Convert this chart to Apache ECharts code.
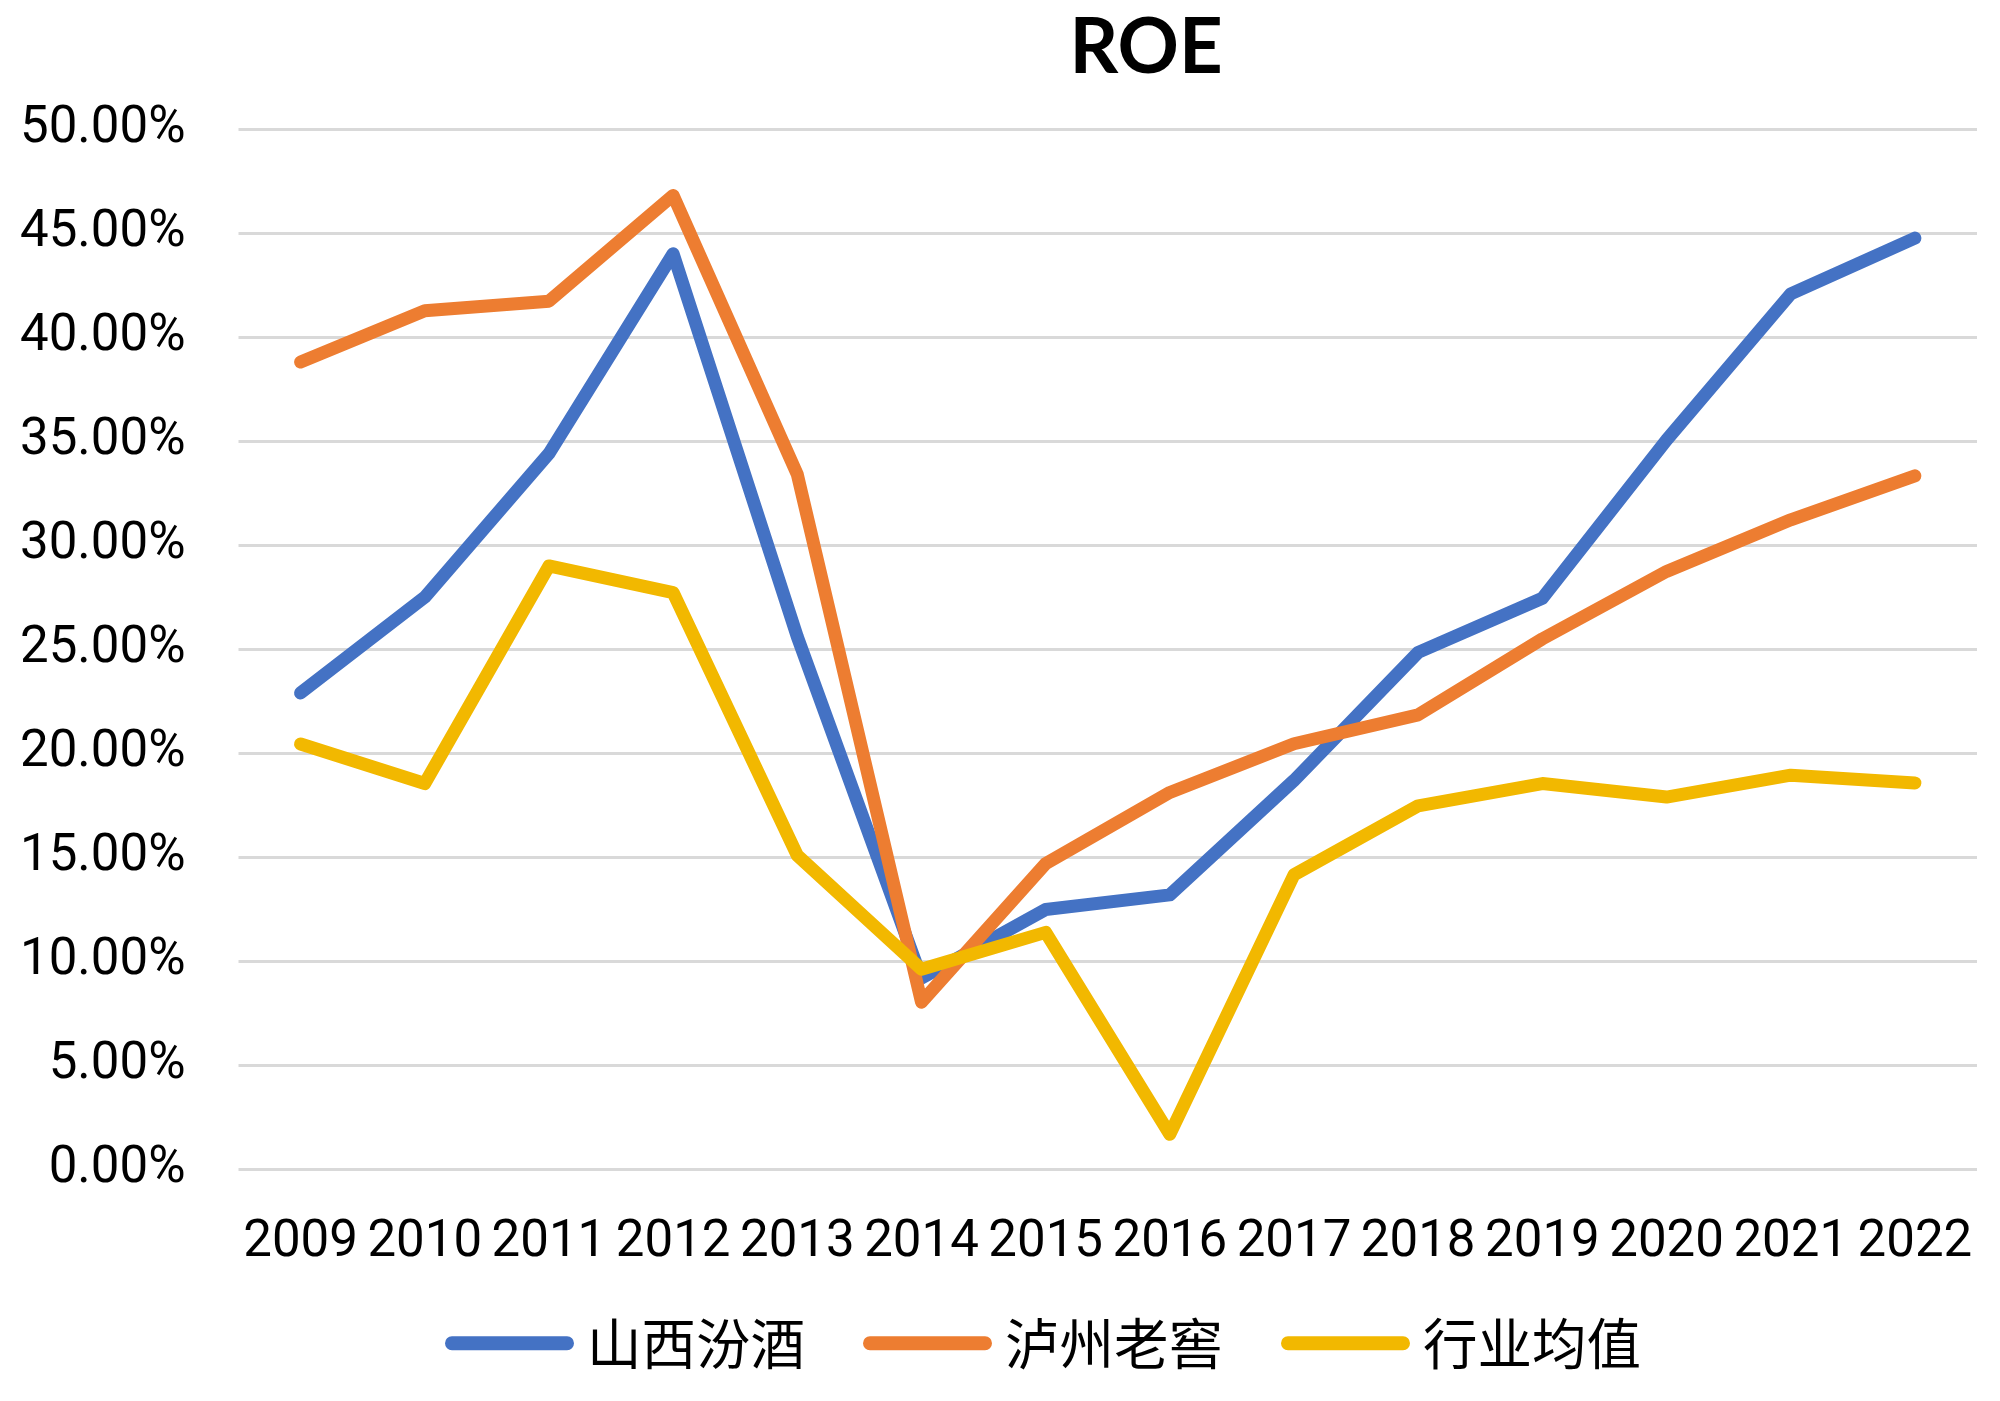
<!DOCTYPE html>
<html>
<head>
<meta charset="utf-8">
<style>
html,body{margin:0;padding:0;background:#fff;}
#chart{width:2000px;height:1401px;}
</style>
<script src="https://cdn.jsdelivr.net/npm/echarts@6/dist/echarts.min.js"></script>
</head>
<body>
<div id="chart"></div>
<script>
const categories = ['2009','2010','2011','2012','2013','2014','2015','2016','2017','2018','2019','2020','2021','2022'];
const seriesNames = ['山西汾酒','泸州老窖','行业均值'];
const fenjiu  = [22.9, 27.5, 34.4, 44.0, 25.6, 9.2, 12.5, 13.2, 18.7, 24.85, 27.45, 35.05, 42.07, 44.75];
const luzhou  = [38.8, 41.26, 41.72, 46.8, 33.4, 8.05, 14.7, 18.12, 20.46, 21.85, 25.5, 28.74, 31.22, 33.33];
const average = [20.45, 18.55, 29.0, 27.72, 15.1, 9.63, 11.4, 1.7, 14.17, 17.48, 18.55, 17.9, 18.95, 18.58];
const yTicks = {min: 0, max: 50, interval: 5};

const colors = ['#4472C4', '#ED7D31', '#F2B800'];
const labelFont = 'Roboto, "Noto Sans", sans-serif';
const cjkFont = '"Noto Sans CJK SC", sans-serif';

const chart = echarts.init(document.getElementById('chart'), null, {renderer: 'canvas'});
const capsule = 'path://M6.5,0 H114.5 A6.5,6.5 0 0 1 114.5,13 H6.5 A6.5,6.5 0 0 1 6.5,0 Z';

function lineSeries(name, data, color) {
  return {
    name: name,
    type: 'line',
    data: data,
    symbol: 'none',
    showSymbol: false,
    lineStyle: {color: color, width: 13, cap: 'round', join: 'round'},
    itemStyle: {color: color},
    emphasis: {disabled: true},
    animation: false
  };
}

chart.setOption({
  animation: false,
  backgroundColor: '#ffffff',
  color: colors,
  title: {
    text: 'ROE',
    left: 1146,
    top: 10,
    textAlign: 'center',
    padding: 0,
    textStyle: {fontFamily: 'Lato, Roboto, sans-serif', fontWeight: 'bold', fontSize: 76, color: '#000000'}
  },
  grid: {left: 238.5, right: 23, top: 128.8, bottom: 231.3, containLabel: false},
  legend: {
    left: 445,
    top: 1316,
    padding: 0,
    itemGap: 58,
    itemWidth: 129,
    itemHeight: 14,
    icon: capsule,
    data: seriesNames,
    selectedMode: false,
    textStyle: {fontFamily: cjkFont, fontSize: 54.5, color: '#000000', padding: [0, 0, 0, 8]}
  },
  xAxis: {
    type: 'category',
    data: categories,
    boundaryGap: true,
    axisLine: {show: false},
    axisTick: {show: false},
    axisLabel: {interval: 0, margin: 48, fontFamily: labelFont, fontSize: 51, color: '#000000'},
    splitLine: {show: false}
  },
  yAxis: {
    type: 'value',
    min: yTicks.min,
    max: yTicks.max,
    interval: yTicks.interval,
    axisLine: {show: false},
    axisTick: {show: false},
    axisLabel: {
      margin: 53,
      fontFamily: labelFont,
      fontSize: 51,
      color: '#000000',
      formatter: function (v) { return v.toFixed(2) + '%'; }
    },
    splitLine: {show: true, lineStyle: {color: '#D9D9D9', width: 3}}
  },
  series: [
    lineSeries(seriesNames[0], fenjiu, colors[0]),
    lineSeries(seriesNames[1], luzhou, colors[1]),
    lineSeries(seriesNames[2], average, colors[2])
  ]
});
</script>
</body>
</html>
